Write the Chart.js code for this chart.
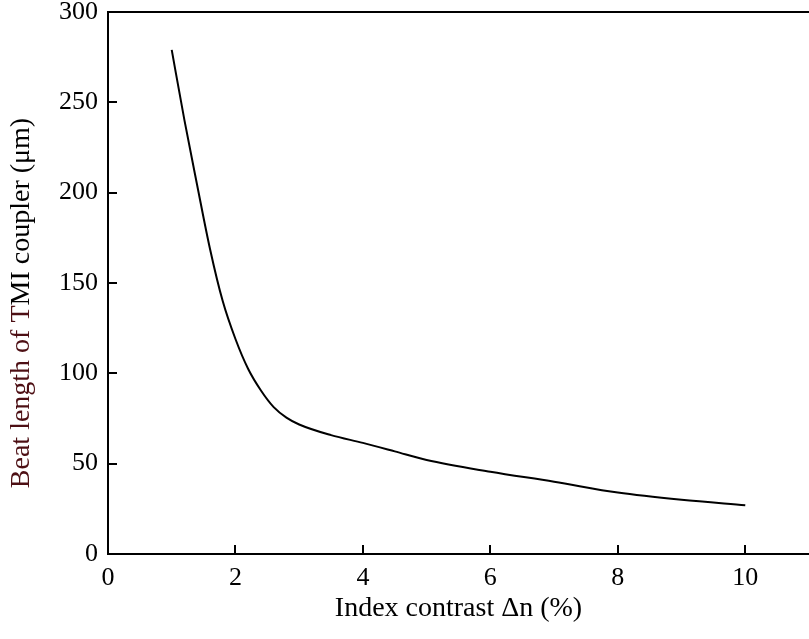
<!DOCTYPE html>
<html>
<head>
<meta charset="utf-8">
<script src="https://cdn.jsdelivr.net/npm/chart.js@4"></script>
<style>
  html, body { margin: 0; padding: 0; background: #fff; }
  #wrap { width: 809px; height: 639px; }
</style>
</head>
<body>
<div id="wrap"><canvas id="c" width="809" height="639"></canvas></div>
<script>
// index contrast (%) and beat length (um)
const contrast = [1.0, 1.2, 1.4, 1.6, 1.8, 2.0, 2.2, 2.4, 2.6, 2.8, 3.0, 3.5, 4, 4.5, 5, 6, 7, 8, 9, 10];
const beatLength = [279, 240, 204, 169, 140, 119, 102.4, 90.5, 81.3, 75.5, 71.7, 65.8, 61.5, 56.8, 52, 45.5, 40, 34, 30, 27];
const xTicks = [0, 2, 4, 6, 8, 10];
const yTicks = [0, 50, 100, 150, 200, 250, 300];

const serif = '"Liberation Serif", "Times New Roman", serif';

// inward tick marks, top frame, and two-colour y title
const framePlugin = {
  id: 'frame',
  afterDraw(chart) {
    const { ctx, chartArea: a, scales: { x, y } } = chart;
    ctx.save();
    ctx.strokeStyle = '#000';
    ctx.lineWidth = 2;
    ctx.beginPath();
    ctx.moveTo(a.left - 1, a.top);
    ctx.lineTo(a.right, a.top);
    xTicks.forEach(v => {
      if (v === 0) return;
      const px = Math.round(x.getPixelForValue(v));
      ctx.moveTo(px, a.bottom);
      ctx.lineTo(px, a.bottom - 9);
    });
    yTicks.forEach(v => {
      if (v === 0 || v === 300) return;
      const py = Math.round(y.getPixelForValue(v));
      ctx.moveTo(a.left, py);
      ctx.lineTo(a.left + 9, py);
    });
    ctx.stroke();

    // y title
    ctx.translate(22, 303);
    ctx.rotate(-Math.PI / 2);
    ctx.font = '28px ' + serif;
    ctx.textBaseline = 'middle';
    const p1 = 'Beat length of T', p2 = 'MI coupler (\u03bcm)';
    const w1 = ctx.measureText(p1).width, w2 = ctx.measureText(p2).width;
    const start = -(w1 + w2) / 2;
    ctx.textAlign = 'left';
    ctx.fillStyle = '#4d0f14';
    ctx.fillText(p1, start, 0);
    ctx.fillStyle = '#000';
    ctx.fillText(p2, start + w1, 0);
    ctx.restore();
  }
};

new Chart(document.getElementById('c'), {
  type: 'scatter',
  data: {
    datasets: [{
      data: contrast.map((v, i) => ({ x: v, y: beatLength[i] })),
      showLine: true,
      borderColor: '#000',
      borderWidth: 2,
      pointRadius: 0,
      cubicInterpolationMode: 'monotone',
      fill: false
    }]
  },
  options: {
    responsive: false,
    animation: false,
    layout: { padding: { top: 12, right: 0, left: 0, bottom: 0 } },
    plugins: { legend: { display: false }, tooltip: { enabled: false } },
    scales: {
      x: {
        type: 'linear',
        min: 0,
        max: 11,
        afterBuildTicks: s => { s.ticks = xTicks.map(v => ({ value: v })); },
        afterFit: s => { s.height = 85; s.paddingLeft = 0; s.paddingRight = 0; },
        grid: { display: false, drawTicks: false },
        border: { display: true, color: '#000', width: 2 },
        ticks: { color: '#000', font: { family: serif, size: 26 }, padding: 9, maxRotation: 0 },
        title: {
          display: true,
          text: 'Index contrast \u0394n (%)',
          color: '#000',
          font: { family: serif, size: 28 },
          padding: { top: 0, bottom: 14 }
        }
      },
      y: {
        min: 0,
        max: 300,
        afterBuildTicks: s => { s.ticks = yTicks.map(v => ({ value: v })); },
        afterFit: s => { s.width = 108; s.paddingTop = 0; s.paddingBottom = 0; },
        grid: { display: false, drawTicks: false },
        border: { display: true, color: '#000', width: 2 },
        ticks: { color: '#000', font: { family: serif, size: 26 }, padding: 10 }
      }
    }
  },
  plugins: [framePlugin]
});
</script>
</body>
</html>
